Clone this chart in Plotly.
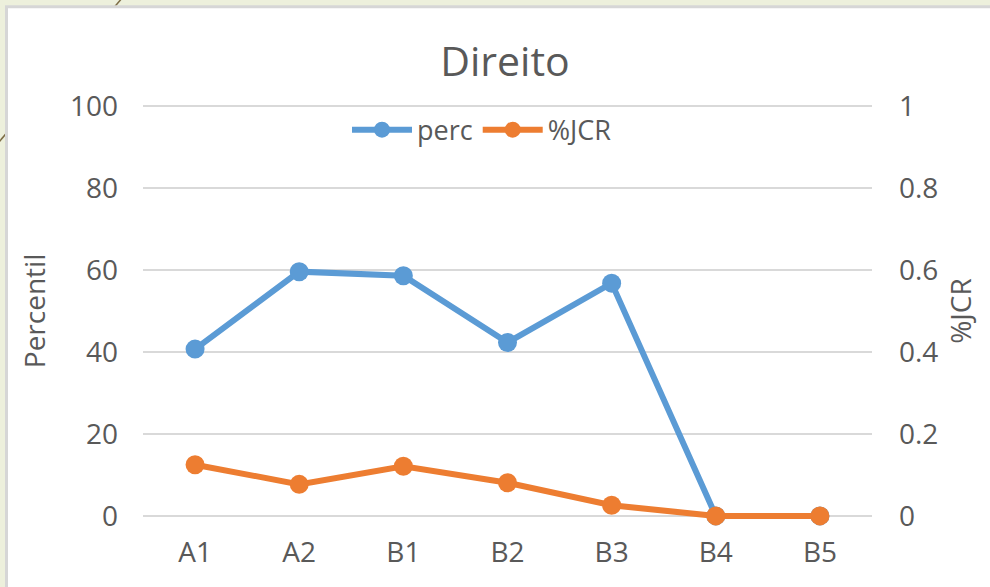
import plotly.graph_objects as go

# --- data ---
categories = ["A1", "A2", "B1", "B2", "B3", "B4", "B5"]
perc = [40.7, 59.6, 58.6, 42.3, 56.8, 0.0, 0.0]
jcr = [0.125, 0.077, 0.121, 0.081, 0.026, 0.0, 0.0]
left_ticks = [0, 20, 40, 60, 80, 100]
left_tick_text = ["0", "20", "40", "60", "80", "100"]
right_ticks = [0, 0.2, 0.4, 0.6, 0.8, 1.0]
right_tick_text = ["0", "0.2", "0.4", "0.6", "0.8", "1"]

# --- figure geometry (pixels) ---
W, H = 990, 587
PAD = 1.0                       # axis overshoot (percent units) so edge gridlines render
PX_PER_UNIT = 410 / 100         # 0..100 spans 410 px
L, R = 143, 872
T = 106 - PAD * PX_PER_UNIT
B = 516 + PAD * PX_PER_UNIT

def px2x(px):
    return (px - L) / (R - L)

def px2y(py):
    return (B - py) / (B - T)

TEXT = "#595959"
FONT = "Open Sans"
BLUE = "#5b9bd5"
ORANGE = "#ed7d31"
FS = 28

fig = go.Figure()
fig.add_trace(go.Scatter(
    x=categories, y=perc, name="perc", mode="lines+markers",
    line=dict(color=BLUE, width=6), marker=dict(color=BLUE, size=19),
    cliponaxis=False, yaxis="y",
))
fig.add_trace(go.Scatter(
    x=categories, y=jcr, name="%JCR", mode="lines+markers",
    line=dict(color=ORANGE, width=6), marker=dict(color=ORANGE, size=19),
    cliponaxis=False, yaxis="y2",
))

shapes = [
    # decorative diagonal stroke behind the panel
    dict(type="line", xref="paper", yref="paper", layer="below",
         x0=px2x(122), y0=px2y(-2), x1=px2x(-2), y1=px2y(143),
         line=dict(color="#7d6c45", width=1.5)),
    # white chart panel
    dict(type="rect", xref="paper", yref="paper", layer="below",
         x0=px2x(6.5), y0=px2y(6.5), x1=px2x(1000), y1=px2y(600),
         fillcolor="white", line=dict(color="#d6d6d6", width=3)),
]

fig.update_layout(
    width=W, height=H,
    margin=dict(l=L, r=W - R, t=T, b=H - B, autoexpand=False),
    paper_bgcolor="#edf0dc",
    plot_bgcolor="white",
    shapes=shapes,
    font=dict(family=FONT, color=TEXT, size=FS),
    title=dict(text="Direito", x=px2x(505), xref="paper", xanchor="center",
               y=1 - 62 / H, yanchor="middle",
               font=dict(family=FONT, size=41, color=TEXT)),
    legend=dict(orientation="h", x=px2x(482), xanchor="center",
                y=px2y(130), yanchor="middle", bgcolor="rgba(0,0,0,0)",
                font=dict(family=FONT, size=27, color=TEXT),
                itemwidth=60, tracegroupgap=0),
    xaxis=dict(
        type="category", range=[-0.5, len(categories) - 0.5],
        showgrid=False, showline=False, zeroline=False, ticks="",
        ticklabelstandoff=13,
        tickfont=dict(family=FONT, size=FS, color=TEXT),
    ),
    yaxis=dict(
        range=[-PAD, 100 + PAD], tickvals=left_ticks, ticktext=left_tick_text,
        showgrid=True, gridcolor="#d9d9d9", gridwidth=1.5,
        zeroline=False, showline=False, ticks="",
        ticklabelstandoff=24,
        tickfont=dict(family=FONT, size=FS, color=TEXT),
        title=dict(text="Percentil", standoff=16,
                   font=dict(family=FONT, size=FS, color=TEXT)),
    ),
    yaxis2=dict(
        range=[-PAD / 100, 1 + PAD / 100], tickvals=right_ticks,
        ticktext=right_tick_text,
        overlaying="y", side="right", showgrid=False,
        zeroline=False, showline=False, ticks="",
        ticklabelstandoff=26,
        tickfont=dict(family=FONT, size=FS, color=TEXT),
        title=dict(text="%JCR", standoff=14,
                   font=dict(family=FONT, size=FS, color=TEXT)),
    ),
)

fig.write_html("out.html")
